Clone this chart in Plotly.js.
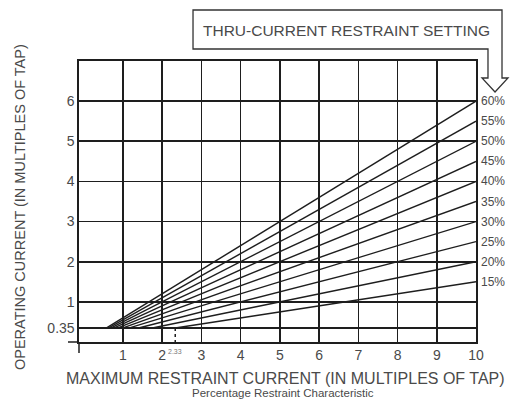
<!DOCTYPE html>
<html><head>
<script src="https://cdn.plot.ly/plotly-3.0.1.min.js"></script>
<style>body{margin:0;background:#fff}</style>
</head><body>
<div id="c" style="width:511px;height:401px"></div>
<script>
// ---- data ----
const settings = [60, 55, 50, 45, 40, 35, 30, 25, 20, 15];          // percent restraint
const settingLabels = ['60%', '55%', '50%', '45%', '40%', '35%', '30%', '25%', '20%', '15%'];
const pickup = 0.35;           // minimum operating current (multiples of tap)
const xMax = 10;               // max restraint current shown
const xTicks = [1, 2, 3, 4, 5, 6, 7, 8, 9, 10];
const xTickLabels = ['1', '2', '3', '4', '5', '6', '7', '8', '9', '10'];
const yTicks = [0.35, 1, 2, 3, 4, 5, 6];
const yTickLabels = ['0.35', '1', '2', '3', '4', '5', '6'];
const kneeLabel = '2.33';

// ---- geometry helpers (page pixels -> paper) ----
const M = {l: 79, r: 35, t: 61, b: 59};
const W = 511, H = 401;
const pw = W - M.l - M.r, ph = H - M.t - M.b;
const px = v => (v - M.l) / pw;
const py = v => (H - M.b - v) / ph;

const lineCol = '#1e1e1e';
const txtCol = '#4a4a4a';
const fnt = 'Liberation Sans, Arial, sans-serif';

const traces = settings.map(p => {
  const s = p / 100;
  return {
    type: 'scatter', mode: 'lines',
    x: [pickup / s, xMax], y: [pickup, s * xMax],
    line: {color: lineCol, width: 1.4}, hoverinfo: 'skip', showlegend: false
  };
});
const minSlope = Math.min(...settings) / 100;
traces.push({
  type: 'scatter', mode: 'lines',
  x: [pickup / minSlope, pickup / minSlope], y: [pickup, 0],
  line: {color: lineCol, width: 1.5, dash: '3px,3px'}, hoverinfo: 'skip', showlegend: false
});

const annotations = settings.map((p, i) => ({
  x: xMax, y: p / 100 * xMax, xref: 'x', yref: 'y',
  text: settingLabels[i], showarrow: false, xanchor: 'left', yanchor: 'middle', xshift: 3,
  font: {family: fnt, size: 12, color: txtCol}
}));
const A = (x, y, text, size, extra) => Object.assign({
  xref: 'paper', yref: 'paper', x: px(x), y: py(y), text: text, showarrow: false,
  xanchor: 'center', yanchor: 'middle', font: {family: fnt, size: size, color: txtCol}
}, extra || {});
annotations.push(
  A(20, 207, 'OPERATING CURRENT (IN MULTIPLES OF TAP)', 14.5, {textangle: -90}),
  A(285, 378, 'MAXIMUM RESTRAINT CURRENT (IN MULTIPLES OF TAP)', 16),
  A(283, 393, 'Percentage Restraint Characteristic', 11.5),
  A(346, 30, 'THRU-CURRENT RESTRAINT SETTING', 15.5),
  {xref: 'x', yref: 'paper', x: pickup / minSlope, y: py(351), xanchor: 'center', yanchor: 'middle',
   text: kneeLabel, showarrow: false, font: {family: fnt, size: 7, color: '#777'}}
);

const P = (x, y) => px(x).toFixed(4) + ',' + py(y).toFixed(4);
const arrowPath = 'M' + P(193, 10) + ' L' + P(502, 10) + ' L' + P(502, 78) + ' L' + P(508, 78) +
  ' L' + P(495, 92) + ' L' + P(482, 78) + ' L' + P(488, 78) + ' L' + P(488, 49) + ' L' + P(193, 49) + ' Z';

const shapes = [
  {type: 'path', xref: 'paper', yref: 'paper', path: arrowPath,
   line: {color: '#333', width: 1.3}, fillcolor: 'rgba(0,0,0,0)'},
  {type: 'line', xref: 'paper', yref: 'paper', x0: px(68), x1: 0, y0: 0, y1: 0,
   line: {color: lineCol, width: 1.5}},
  {type: 'line', xref: 'paper', yref: 'paper', x0: 0, x1: 0, y0: 0, y1: py(353),
   line: {color: lineCol, width: 1.5}}
];

const layout = {
  width: W, height: H, margin: M,
  paper_bgcolor: '#fff', plot_bgcolor: '#fff',
  showlegend: false,
  xaxis: {
    range: [-0.12, xMax], tickvals: xTicks, ticktext: xTickLabels,
    showgrid: true, gridcolor: lineCol, gridwidth: 1.6,
    zeroline: false, showline: true, linecolor: lineCol, linewidth: 1.6, mirror: true,
    ticks: '', tickfont: {family: fnt, size: 14, color: txtCol}, fixedrange: true
  },
  yaxis: {
    range: [0, 7], tickvals: yTicks, ticktext: yTickLabels,
    showgrid: true, gridcolor: lineCol, gridwidth: 1.6,
    zeroline: false, showline: true, linecolor: lineCol, linewidth: 1.6, mirror: true,
    ticks: '', tickfont: {family: fnt, size: 14, color: txtCol}, fixedrange: true
  },
  annotations: annotations,
  shapes: shapes
};

Plotly.newPlot('c', traces, layout, {staticPlot: true, displayModeBar: false});
</script>
</body></html>
